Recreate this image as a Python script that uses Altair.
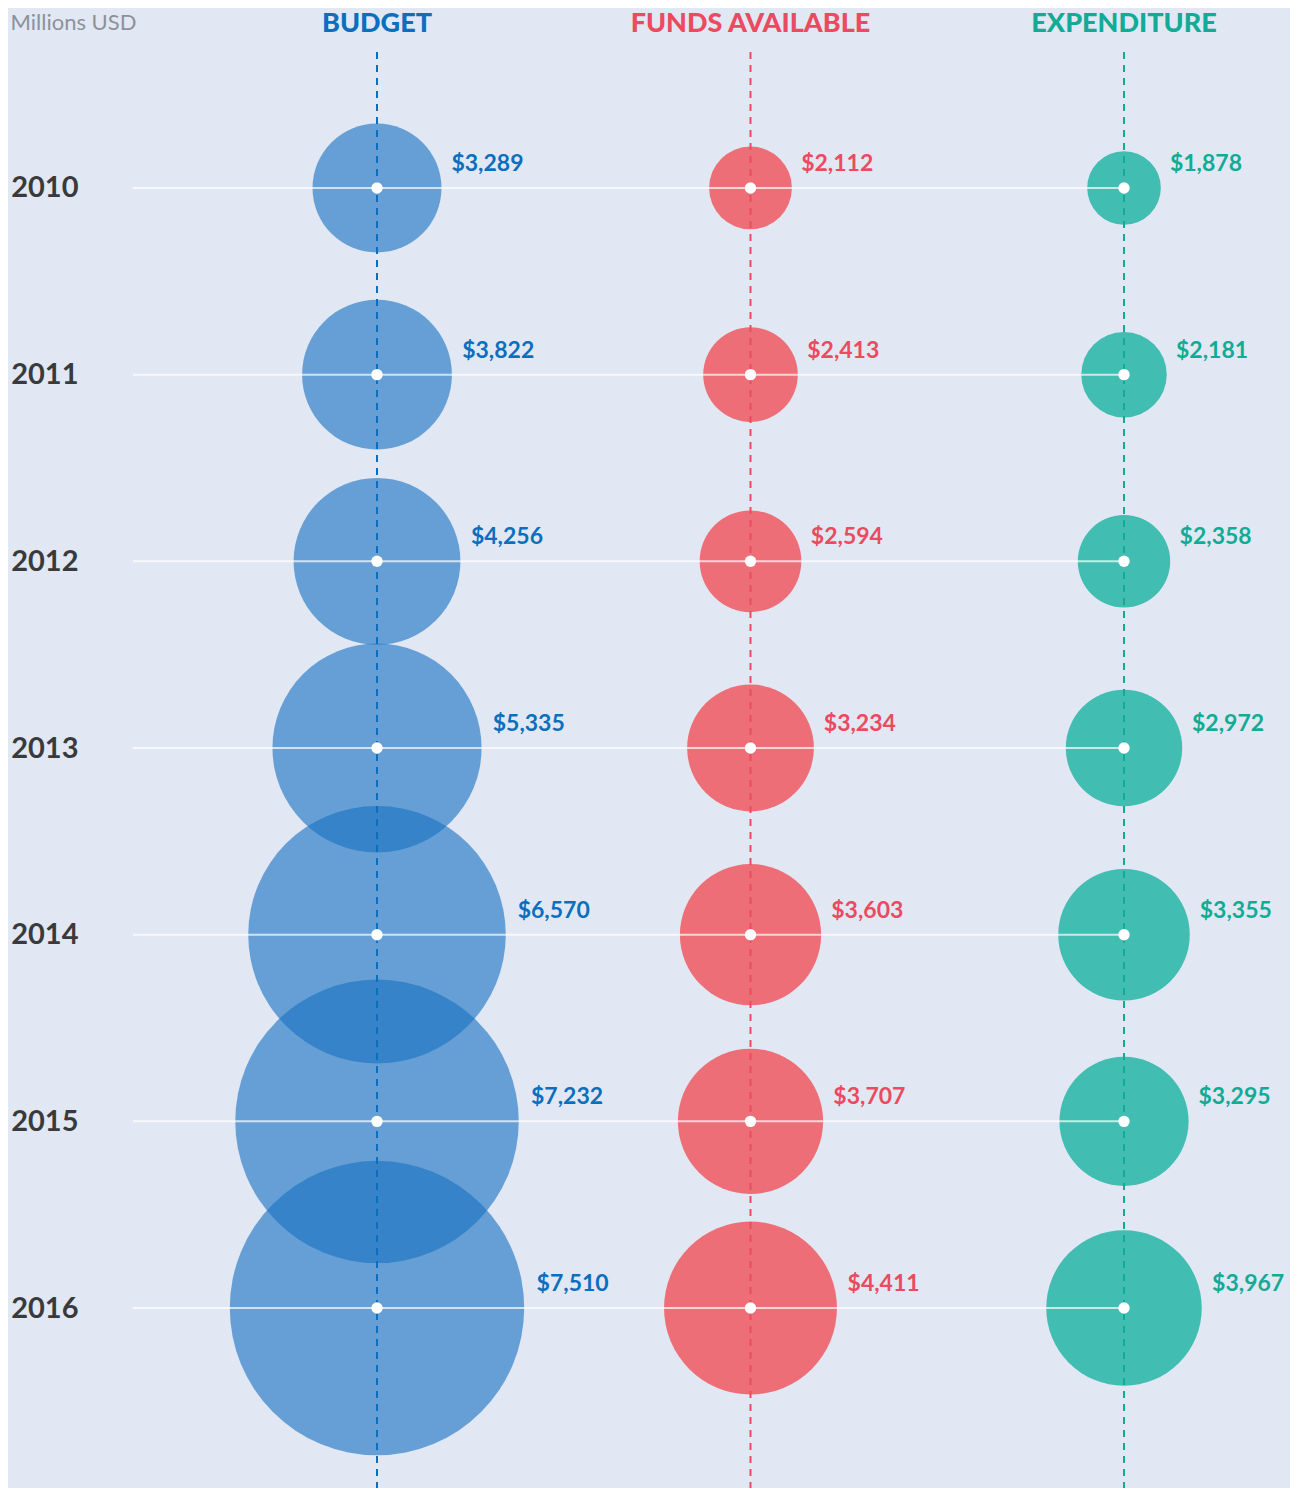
import altair as alt
import pandas as pd

# ---------------- data ----------------
years = [2010, 2011, 2012, 2013, 2014, 2015, 2016]
budget = [3289, 3822, 4256, 5335, 6570, 7232, 7510]
funds_available = [2112, 2413, 2594, 3234, 3603, 3707, 4411]
expenditure = [1878, 2181, 2358, 2972, 3355, 3295, 3967]
metrics = ["BUDGET", "FUNDS AVAILABLE", "EXPENDITURE"]
unit_label = "Millions USD"

# ---------------- style / layout ----------------
BG = "#e1e8f4"
TEXT_COLORS = ["#0b6fbe", "#ec4a5f", "#12ab95"]
FILL_COLORS = ["#1a72c2", "#ee6e78", "#25b5a5"]
FILL_OPACITY = [0.62, 1.0, 0.85]

TOTAL_W, TOTAL_H = 1282, 1480
PAD_L = 125
W = TOTAL_W - PAD_L
H = TOTAL_H
COL_STEP = 373.5          # px between column centres
FIRST_COL = 244           # px of first column from plot left
X_MIN = -FIRST_COL / COL_STEP
X_MAX = X_MIN + W / COL_STEP
DIAM_PER_USD = 0.0392     # bubble diameter (px) per million USD
SIZE_MAX_V = 8000
FONT = "Lato"

rows = []
for i, m in enumerate(metrics):
    vals = [budget, funds_available, expenditure][i]
    for y, v in zip(years, vals):
        rows.append({"year": str(y), "metric": m, "col": i, "value": v})
df = pd.DataFrame(rows)

head_df = pd.DataFrame({"metric": metrics, "col": list(range(len(metrics)))})
line_df = pd.DataFrame({"year": [str(y) for y in years]})

color_scale = alt.Scale(domain=metrics, range=TEXT_COLORS)
fill_scale = alt.Scale(domain=metrics, range=FILL_COLORS)
op_scale = alt.Scale(type="ordinal", domain=metrics, range=FILL_OPACITY)
xscale = alt.Scale(domain=[X_MIN, X_MAX], nice=False, zero=False)
yscale = alt.Scale(type="point", padding=0.964)

x_enc = alt.X("col:Q", scale=xscale, axis=None)
y_axis = alt.Axis(
    title=unit_label, titleAngle=0, titleAlign="left", titleBaseline="middle",
    titleX=-PAD_L + 2, titleY=14, titleFont=FONT, titleFontSize=22,
    titleFontWeight="normal", titleColor="#8d9199",
    labelFont=FONT, labelFontSize=29, labelFontWeight="bold", labelColor="#3a3a3c",
    labelAlign="right", labelPadding=55, ticks=False, domain=False, grid=False,
)
y_enc = alt.Y("year:O", scale=yscale, axis=y_axis)

base = alt.Chart(df)

circles = base.mark_circle(strokeWidth=0).encode(
    x=x_enc,
    y=y_enc,
    size=alt.Size("value:Q", legend=None,
                  scale=alt.Scale(type="pow", exponent=2, domain=[0, SIZE_MAX_V],
                                  range=[0, (SIZE_MAX_V * DIAM_PER_USD) ** 2], nice=False)),
    fill=alt.Fill("metric:N", scale=fill_scale, legend=None),
    opacity=alt.Opacity("metric:N", scale=op_scale, legend=None),
)

vlines = alt.Chart(head_df).mark_rule(strokeDash=[7, 6], strokeWidth=2).encode(
    x=x_enc,
    y=alt.value(44),
    y2=alt.value(H),
    color=alt.Color("metric:N", scale=color_scale, legend=None),
)

hlines = alt.Chart(line_df).transform_calculate(
    xs=str(X_MIN), xe="2"
).mark_rule(color="white", strokeWidth=2, opacity=0.7).encode(
    x=alt.X("xs:Q", scale=xscale, axis=None),
    x2="xe:Q",
    y=y_enc,
)

dots = base.mark_circle(color="white", opacity=1, size=130).encode(
    x=x_enc, y=y_enc,
)

labels = base.transform_calculate(
    lx=f"datum.col + (datum.value * {DIAM_PER_USD} / 2 * 1.03 + 8) / {COL_STEP}",
    txt="'$' + format(datum.value, ',')",
).mark_text(align="left", baseline="middle", dy=-24, font=FONT,
            fontSize=23, fontWeight="bold").encode(
    x=alt.X("lx:Q", scale=xscale, axis=None),
    y=y_enc,
    text="txt:N",
    color=alt.Color("metric:N", scale=color_scale, legend=None),
)

headers = alt.Chart(head_df).mark_text(
    align="center", baseline="middle", font=FONT, fontSize=27, fontWeight=900
).encode(
    x=x_enc,
    y=alt.value(16),
    text="metric:N",
    color=alt.Color("metric:N", scale=color_scale, legend=None),
)

chart = alt.layer(circles, vlines, hlines, dots, labels, headers).properties(
    width=W, height=H,
    background=BG,
    padding={"left": PAD_L, "top": 0, "right": 0, "bottom": 0},
    autosize=alt.AutoSizeParams(type="none"),
).configure_view(stroke=None)

chart.save("out.html", embed_options={"renderer": "svg", "actions": False})
